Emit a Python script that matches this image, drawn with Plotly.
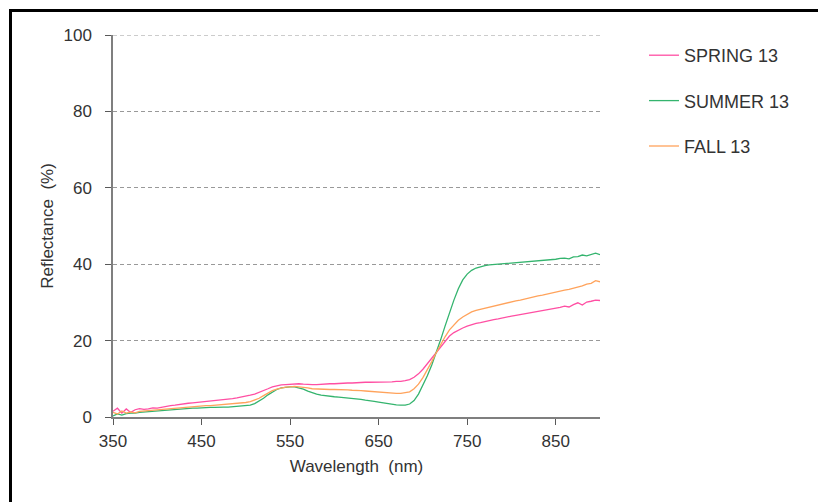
import plotly.graph_objects as go

# Wavelength grid (nm), 5 nm steps from 350 to 900
wavelength = list(range(350, 905, 5))

spring_13 = [
    1.5, 2.3, 1.0, 2.1, 1.2, 1.9, 2.2, 2.0, 2.1, 2.4, 2.3,
    2.6, 2.8, 3.0, 3.1, 3.3, 3.4, 3.6, 3.7, 3.8, 3.9,
    4.0, 4.1, 4.3, 4.4, 4.5, 4.6, 4.8, 5.0, 5.2, 5.4,
    5.7, 6.0, 6.4, 6.9, 7.4, 7.9, 8.2, 8.4, 8.5, 8.6,
    8.7, 8.7, 8.6, 8.5, 8.5, 8.5, 8.6, 8.6, 8.7, 8.7,
    8.8, 8.8, 8.9, 8.9, 9.0, 9.0, 9.1, 9.1, 9.1, 9.1,
    9.2, 9.2, 9.2, 9.3, 9.3, 9.5, 9.8, 10.4, 11.3, 12.5,
    14.0, 15.4, 16.9, 18.5, 20.0, 21.2, 22.1, 22.8, 23.3, 23.8,
    24.2, 24.5, 24.7, 25.0, 25.2, 25.5, 25.7, 26.0, 26.1, 26.4,
    26.6, 26.8, 27.0, 27.2, 27.3, 27.6, 27.8, 28.0, 28.2, 28.4,
    28.7, 29.0, 28.8, 29.4, 29.9, 29.3, 30.1, 30.3, 30.6, 30.5,
]

summer_13 = [
    0.3, 0.8, 0.5, 0.9, 1.0, 1.0, 1.2, 1.3, 1.4, 1.5, 1.6,
    1.7, 1.8, 1.9, 2.0, 2.1, 2.2, 2.2, 2.3, 2.3, 2.4,
    2.4, 2.5, 2.5, 2.6, 2.6, 2.6, 2.7, 2.7, 2.8, 2.9,
    3.1, 3.5, 4.1, 4.9, 5.8, 6.6, 7.2, 7.6, 7.8, 7.9,
    7.9, 7.7, 7.3, 6.8, 6.3, 6.0, 5.7, 5.5, 5.4, 5.3,
    5.2, 5.1, 5.0, 4.9, 4.8, 4.6, 4.4, 4.3, 4.1, 3.9,
    3.7, 3.5, 3.3, 3.2, 3.1, 3.1, 3.4, 4.3, 6.0, 8.3,
    10.8, 13.6, 16.8, 20.2, 23.8, 27.3, 30.6, 33.6, 35.9, 37.4,
    38.4, 39.0, 39.4, 39.6, 39.8, 39.9, 40.0, 40.1, 40.2, 40.3,
    40.4, 40.5, 40.6, 40.6, 40.7, 40.9, 41.0, 41.1, 41.2, 41.3,
    41.5, 41.6, 41.4, 41.9, 42.0, 42.4, 42.2, 42.6, 42.9, 42.5,
]

fall_13 = [
    1.2, 0.8, 1.6, 1.0, 1.3, 1.1, 1.5, 1.6, 1.8, 1.9, 2.0,
    2.1, 2.2, 2.3, 2.4, 2.5, 2.6, 2.7, 2.8, 2.8, 2.9,
    3.0, 3.0, 3.1, 3.2, 3.2, 3.3, 3.4, 3.5, 3.6, 3.8,
    4.0, 4.4, 4.9, 5.6, 6.3, 6.9, 7.3, 7.6, 7.8, 7.9,
    8.0, 7.9, 7.8, 7.6, 7.4, 7.3, 7.3, 7.2, 7.2, 7.2,
    7.2, 7.1, 7.1, 7.0, 7.0, 6.9, 6.8, 6.7, 6.6, 6.5,
    6.4, 6.3, 6.3, 6.2, 6.2, 6.3, 6.6, 7.4, 8.6, 10.3,
    12.3, 14.5, 16.8, 19.0, 21.0, 22.8, 24.2, 25.3, 26.2, 26.9,
    27.5, 27.9, 28.2, 28.5, 28.8, 29.1, 29.3, 29.6, 29.9, 30.1,
    30.4, 30.6, 30.9, 31.1, 31.4, 31.7, 31.9, 32.2, 32.5, 32.7,
    33.0, 33.2, 33.4, 33.7, 34.1, 34.3, 34.8, 35.0, 35.7, 35.4,
]

x_ticks = [350, 450, 550, 650, 750, 850]
y_ticks = [0, 20, 40, 60, 80, 100]

series = [
    ("SPRING 13", spring_13, "#ff4fa3"),
    ("SUMMER 13", summer_13, "#34b46e"),
    ("FALL 13", fall_13, "#ffa35c"),
]

FONT = "Liberation Sans, Arial, sans-serif"
TEXT = "#333333"
GRID = "#999999"
W, H = 818, 502
L, R, T, B = 113, 218, 35, 85
plot_w, plot_h = W - L - R, H - T - B


def px_to_paper_x(px):
    return (px - L) / plot_w


def px_to_paper_y(py):
    return (H - B - py) / plot_h


fig = go.Figure()
for i, (name, vals, color) in enumerate(series):
    fig.add_trace(go.Scatter(
        x=wavelength, y=vals, mode="lines", name=name,
        line=dict(color=color, width=1.3),
        legendgroup=f"g{i}",
    ))

fig.update_layout(
    width=W, height=H,
    margin=dict(l=L, r=R, t=T, b=B),
    paper_bgcolor="white", plot_bgcolor="white",
    font=dict(family=FONT, size=17, color=TEXT),
    showlegend=True,
    legend=dict(
        x=px_to_paper_x(644), y=px_to_paper_y(37),
        xanchor="left", yanchor="top",
        font=dict(size=18, color=TEXT),
        tracegroupgap=19, bgcolor="rgba(0,0,0,0)",
    ),
    xaxis=dict(
        range=[350, 900], tickvals=x_ticks, ticks="outside", ticklen=6,
        tickcolor="#595959", showline=True, linecolor="#7f7f7f", linewidth=1.5,
        showgrid=False, zeroline=False, ticklabelstandoff=2,
        title=dict(text="Wavelength  (nm)", standoff=10, font=dict(size=17)),
        tickfont=dict(size=17),
    ),
    yaxis=dict(
        range=[0, 100], tickvals=y_ticks, ticks="outside", ticklen=6,
        tickcolor="#595959", showline=True, linecolor="#7f7f7f", linewidth=1.5,
        showgrid=True, gridcolor=GRID, griddash="4px,3px", gridwidth=1,
        zeroline=False, ticklabelstandoff=10,
        title=dict(text="Reflectance  (%)", standoff=6, font=dict(size=17)),
        tickfont=dict(size=17),
    ),
)

# Dashed gridline along the top of the value axis
fig.add_shape(type="line", xref="paper", yref="y", layer="below",
              x0=0, x1=1, y0=y_ticks[-1], y1=y_ticks[-1],
              line=dict(color=GRID, width=1, dash="4px,3px"))

# Black frame along the top and left edges of the figure
frame = dict(color="black", width=3)
fig.add_shape(type="line", xref="paper", yref="paper", layer="above",
              x0=px_to_paper_x(10.5), x1=px_to_paper_x(W + 5),
              y0=px_to_paper_y(10.5), y1=px_to_paper_y(10.5), line=frame)
fig.add_shape(type="line", xref="paper", yref="paper", layer="above",
              x0=px_to_paper_x(10.5), x1=px_to_paper_x(10.5),
              y0=px_to_paper_y(9), y1=px_to_paper_y(H + 5), line=frame)

fig.write_html("out.html")
